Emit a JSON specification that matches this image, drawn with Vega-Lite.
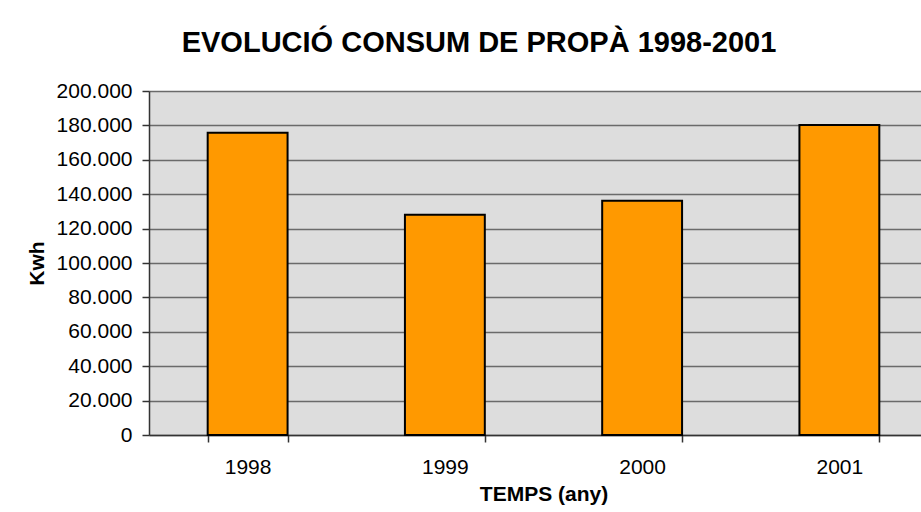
{
  "$schema": "https://vega.github.io/schema/vega-lite/v6.json",
  "width": 772,
  "height": 344,
  "autosize": {"type": "none"},
  "padding": {"left": 149, "top": 91, "right": 0, "bottom": 77},
  "background": "#ffffff",
  "title": {
    "text": "EVOLUCIÓ CONSUM DE PROPÀ 1998-2001",
    "font": "Liberation Sans",
    "fontSize": 29,
    "fontWeight": "bold",
    "color": "#000000",
    "anchor": "middle",
    "dx": -56,
    "offset": 22
  },
  "data": {
    "values": [
      {"year": "1998", "kwh": 175700},
      {"year": "1999", "kwh": 128000},
      {"year": "2000", "kwh": 136200},
      {"year": "2001", "kwh": 180300}
    ]
  },
  "mark": {"type": "bar", "fill": "#FF9900", "stroke": "#000000", "strokeWidth": 2},
  "encoding": {
    "x": {
      "field": "year",
      "type": "nominal",
      "sort": null,
      "scale": {"range": [0, 789], "paddingInner": 0.595, "paddingOuter": 0.2975},
      "axis": {
        "title": "TEMPS (any)",
        "labelAngle": 0,
        "tickBand": "extent",
        "tickSize": 7,
        "labelPadding": 14,
        "titlePadding": 6,
        "grid": false
      }
    },
    "y": {
      "field": "kwh",
      "type": "quantitative",
      "scale": {"domain": [0, 200000], "nice": false},
      "axis": {
        "title": "Kwh",
        "values": [0, 20000, 40000, 60000, 80000, 100000, 120000, 140000, 160000, 180000, 200000],
        "labelExpr": "replace(format(datum.value, ','), ',', '.')",
        "tickSize": 7,
        "labelPadding": 10,
        "titlePadding": 9,
        "grid": true
      }
    }
  },
  "config": {
    "view": {"fill": "#DDDDDD", "stroke": null},
    "axis": {
      "labelFont": "Liberation Sans",
      "labelFontSize": 21,
      "labelColor": "#000000",
      "titleFont": "Liberation Sans",
      "titleFontSize": 21,
      "titleFontWeight": "bold",
      "titleColor": "#000000",
      "domainColor": "#333333",
      "domainWidth": 1.5,
      "tickColor": "#333333",
      "tickWidth": 1.5,
      "gridColor": "#6a6a6a",
      "gridWidth": 1.5,
      "gridOpacity": 1
    }
  }
}
